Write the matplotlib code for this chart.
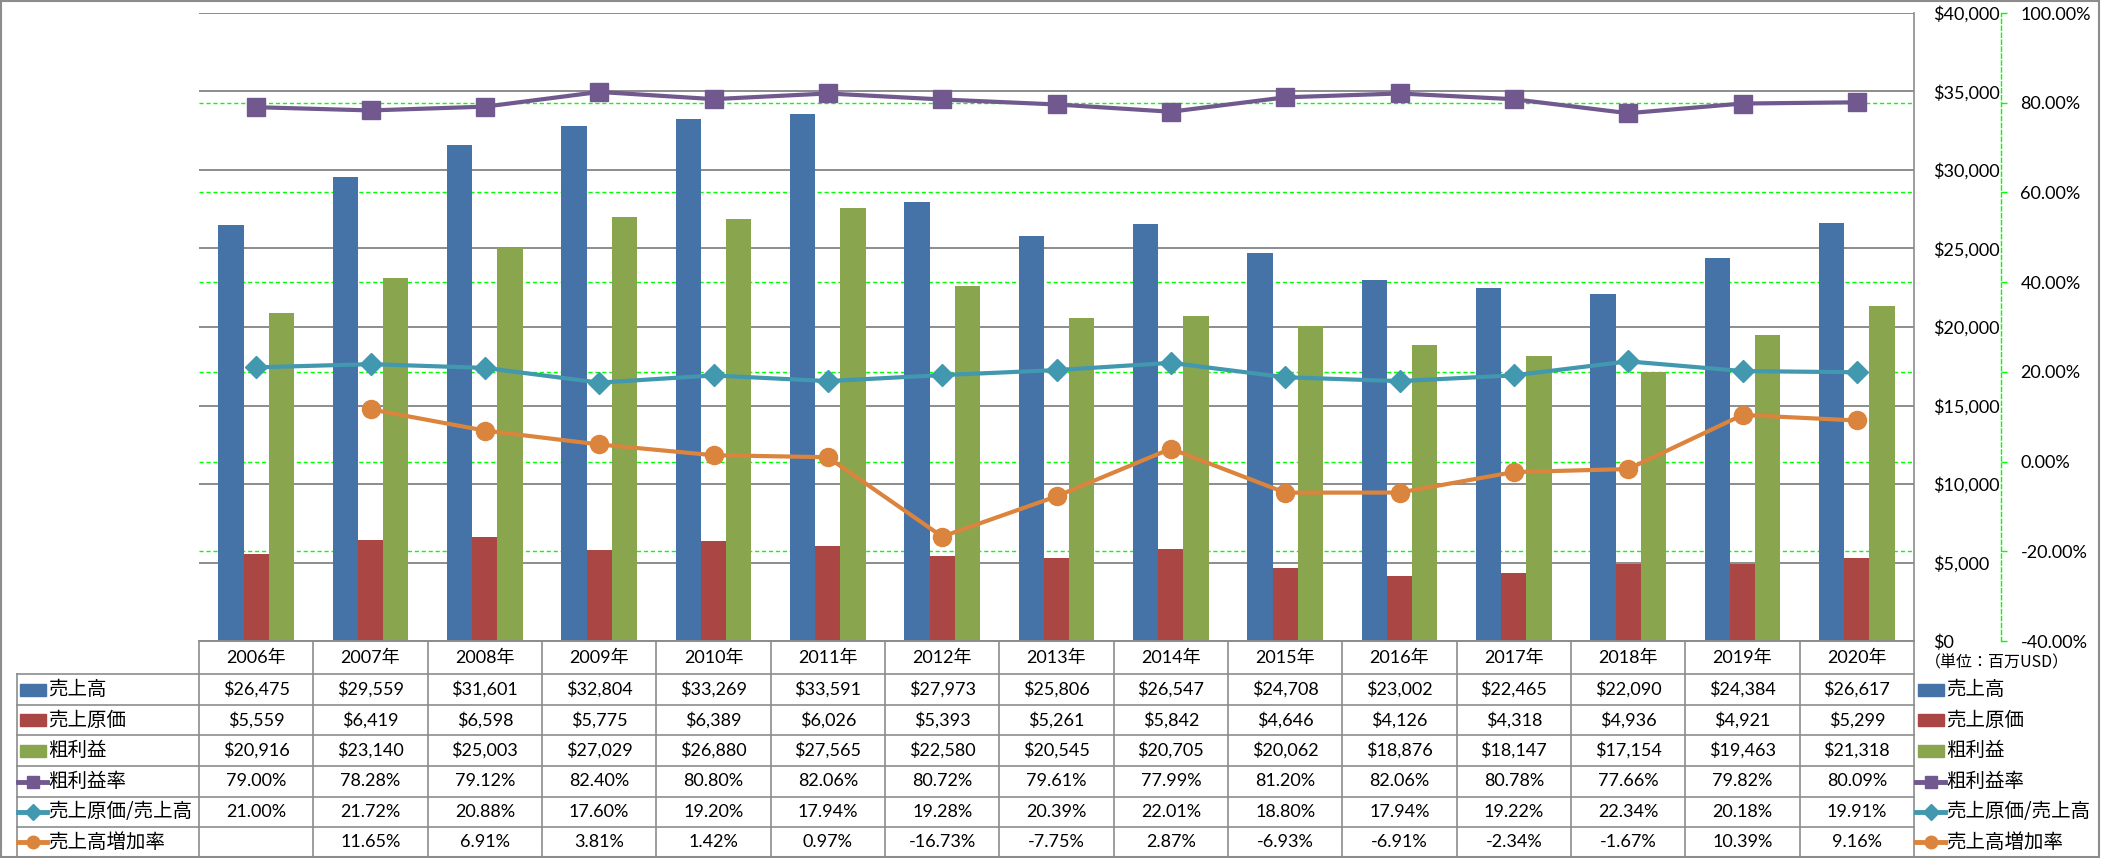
import matplotlib
matplotlib.use('Agg')
import matplotlib.pyplot as plt
from matplotlib.transforms import blended_transform_factory
from matplotlib.lines import Line2D
from matplotlib.patches import Rectangle
import numpy as np

plt.rcParams['font.family'] = ['Lato', 'Noto Sans CJK JP', 'DejaVu Sans']

# ---------------- data ----------------
years = ['2006年', '2007年', '2008年', '2009年', '2010年', '2011年', '2012年', '2013年',
         '2014年', '2015年', '2016年', '2017年', '2018年', '2019年', '2020年']
sales = [26475, 29559, 31601, 32804, 33269, 33591, 27973, 25806, 26547, 24708, 23002, 22465, 22090, 24384, 26617]
cost = [5559, 6419, 6598, 5775, 6389, 6026, 5393, 5261, 5842, 4646, 4126, 4318, 4936, 4921, 5299]
gross = [20916, 23140, 25003, 27029, 26880, 27565, 22580, 20545, 20705, 20062, 18876, 18147, 17154, 19463, 21318]
margin = [79.00, 78.28, 79.12, 82.40, 80.80, 82.06, 80.72, 79.61, 77.99, 81.20, 82.06, 80.78, 77.66, 79.82, 80.09]
cost_ratio = [21.00, 21.72, 20.88, 17.60, 19.20, 17.94, 19.28, 20.39, 22.01, 18.80, 17.94, 19.22, 22.34, 20.18, 19.91]
growth = [np.nan, 11.65, 6.91, 3.81, 1.42, 0.97, -16.73, -7.75, 2.87, -6.93, -6.91, -2.34, -1.67, 10.39, 9.16]

series_names = ['売上高', '売上原価', '粗利益', '粗利益率', '売上原価/売上高', '売上高増加率']
usd_ticks = list(range(0, 40001, 5000))
pct_ticks = list(range(-40, 101, 20))
unit_label = '（単位：百万USD）'

# ---------------- style ----------------
C_BLUE, C_RED, C_GREEN = '#4572A7', '#AA4643', '#89A54E'
C_PURPLE, C_TEAL, C_ORANGE = '#71588F', '#4198AF', '#DB843D'
C_GRID = '#8C8C8C'
C_LIME = '#00FF00'
FS = 13
FS_JP = 14
JP = ['Noto Sans CJK JP', 'DejaVu Sans']

W, H = 2101, 858
fig = plt.figure(figsize=(W / 100, H / 100), dpi=100)


def fx(px):
    return px / W


def fy(py):
    return 1 - py / H


L, R, T, B = 199, 1914, 13, 641
ax = fig.add_axes([fx(L), fy(B), fx(R) - fx(L), fy(T) - fy(B)])
ax2 = ax.twinx()

x = np.arange(len(years))
bw = 0.22
ax.bar(x - bw, sales, bw, color=C_BLUE, zorder=2)
ax.bar(x, cost, bw, color=C_RED, zorder=2)
ax.bar(x + bw, gross, bw, color=C_GREEN, zorder=2)
ax.set_xlim(-0.5, len(years) - 0.5)
ax.set_ylim(0, 40000)
ax.set_yticks(usd_ticks)
ax.set_yticklabels([f'${v:,}' for v in usd_ticks])
ax.set_xticks([])
ax.yaxis.tick_right()
ax.tick_params(axis='y', length=0, pad=14, labelsize=FS, right=False, left=False,
               labelright=True, labelleft=False)
ax.set_axisbelow(True)
ax.yaxis.grid(True, color=C_GRID, lw=1.4)
for s in ['top', 'left']:
    ax.spines[s].set_visible(False)
ax.spines['right'].set_color(C_GRID)
ax.spines['right'].set_linewidth(1.2)
ax.spines['bottom'].set_color(C_GRID)
ax.spines['bottom'].set_linewidth(1.2)

# secondary axis
ax2.set_ylim(-40, 100)
ax2.set_yticks(pct_ticks)
ax2.set_yticklabels([f'{v:.2f}%' for v in pct_ticks])
for lbl, v in zip(ax2.get_yticklabels(), pct_ticks):
    lbl.set_color('red' if v < 0 else 'black')
ax2.tick_params(axis='y', length=4, width=1, color=C_LIME, pad=10, labelsize=FS)
for s in ['top', 'left', 'bottom']:
    ax2.spines[s].set_visible(False)
ax2.spines['right'].set_position(('outward', 87 * 0.72))
ax2.spines['right'].set_color(C_LIME)
ax2.spines['right'].set_linestyle((0, (3, 2)))
ax2.spines['right'].set_linewidth(1.0)

# secondary gridlines drawn behind bars
btr = blended_transform_factory(ax.transAxes, ax2.transData)
for v in pct_ticks[1:-1]:
    ax.plot([0, 1], [v, v], transform=btr, color=C_LIME, lw=1.0, ls=(0, (3, 2)), zorder=1)

ax2.plot(x, margin, color=C_PURPLE, lw=3, marker='s', ms=13, mec=C_PURPLE, zorder=3)
ax2.plot(x, cost_ratio, color=C_TEAL, lw=3, marker='D', ms=11.5, mec=C_TEAL, zorder=3)
ax2.plot(x, growth, color=C_ORANGE, lw=3, marker='o', ms=13, mec=C_ORANGE, zorder=3)

# ---------------- data table ----------------
rows_y = [641, 674, 705, 735, 766, 797, 827, 857]
tx = blended_transform_factory(ax.transData, fig.transFigure)


def fline(x0, y0, x1, y1, transform=fig.transFigure):
    fig.add_artist(Line2D([x0, x1], [y0, y1], transform=transform, color=C_GRID, lw=1.2))


# vertical lines at category boundaries
for b in np.arange(-0.5, len(years), 1.0):
    fline(b, fy(rows_y[0]), b, fy(rows_y[-1]), transform=tx)
# left border
fline(fx(17), fy(rows_y[1]), fx(17), fy(rows_y[-1]))
# horizontal lines
fline(fx(L), fy(rows_y[0]), fx(R), fy(rows_y[0]))
for ry in rows_y[1:]:
    fline(fx(17), fy(ry), fx(R), fy(ry))

# header years
hc = (rows_y[0] + rows_y[1]) / 2
for i, yr in enumerate(years):
    fig.text(i, fy(hc), yr, transform=tx, ha='center', va='center', fontsize=FS)


def fmt_usd(v):
    return f'${v:,}'


def fmt_pct(v):
    return '' if np.isnan(v) else f'{v:.2f}%'


table_rows = [
    [fmt_usd(v) for v in sales],
    [fmt_usd(v) for v in cost],
    [fmt_usd(v) for v in gross],
    [fmt_pct(v) for v in margin],
    [fmt_pct(v) for v in cost_ratio],
    [fmt_pct(v) for v in growth],
]
for r, vals in enumerate(table_rows):
    cy = (rows_y[r + 1] + rows_y[r + 2]) / 2
    for i, s in enumerate(vals):
        fig.text(i, fy(cy), s, transform=tx, ha='center', va='center', fontsize=FS)

# legend keys (left in table and right of plot)
key_styles = [
    ('bar', C_BLUE, None), ('bar', C_RED, None), ('bar', C_GREEN, None),
    ('line', C_PURPLE, 's'), ('line', C_TEAL, 'D'), ('line', C_ORANGE, 'o'),
]


def draw_key(x0, cy, style, color, marker, name):
    if style == 'bar':
        fig.add_artist(Rectangle((fx(x0 + 2), fy(cy + 6)), 26 / W, 12 / H,
                                 transform=fig.transFigure, color=color))
    else:
        fig.add_artist(Line2D([fx(x0), fx(x0 + 29)], [fy(cy), fy(cy)], transform=fig.transFigure,
                              color=color, lw=3.5))
        fig.add_artist(Line2D([fx(x0 + 14.5)], [fy(cy)], transform=fig.transFigure, color=color,
                              marker=marker, ms=9 if marker != 'D' else 8, mec=color, lw=0))
    fig.text(fx(x0 + 30), fy(cy), name, ha='left', va='center', fontsize=FS_JP, family=JP)


for r, (st, col, mk) in enumerate(key_styles):
    cy = (rows_y[r + 1] + rows_y[r + 2]) / 2
    draw_key(18, cy, st, col, mk, series_names[r])
    draw_key(1916, cy, st, col, mk, series_names[r])

fig.text(fx(1925), fy(663), unit_label, ha='left', va='center', fontsize=11.5, family=JP)

# outer border
fig.add_artist(Rectangle((fx(1), fy(857)), (W - 3) / W, 856 / H, transform=fig.transFigure,
                         fill=False, edgecolor=C_GRID, lw=1.5))

fig.savefig('out.png', dpi=100)
